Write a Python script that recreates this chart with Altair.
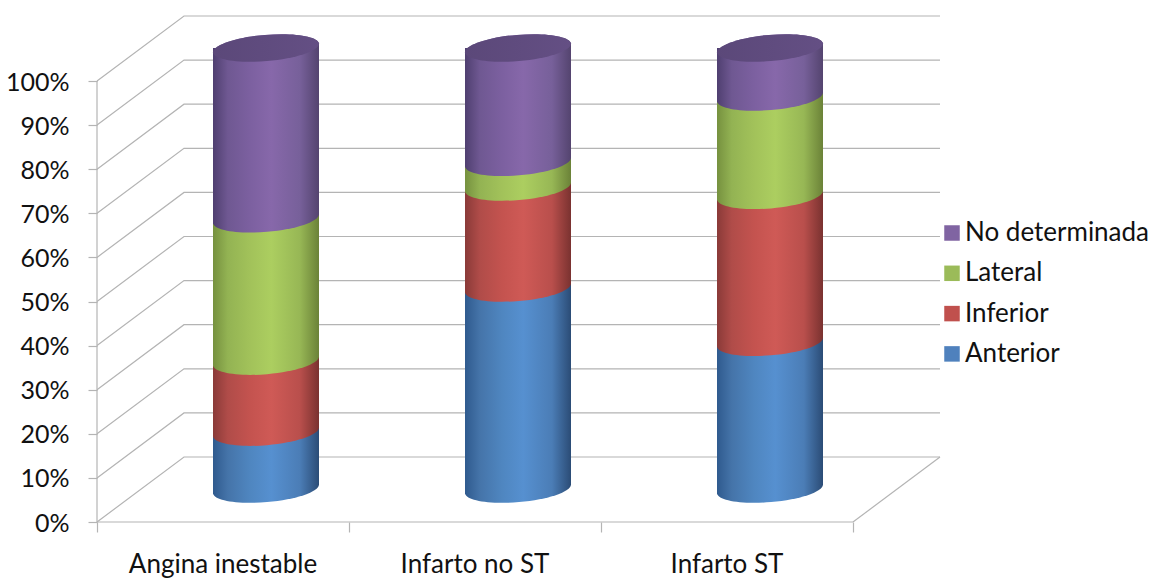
import altair as alt
import pandas as pd

# Percentage share of each territory per diagnosis
categories = ["Angina inestable", "Infarto no ST", "Infarto ST"]
anterior = [12.9, 45.6, 33.3]
inferior = [16.1, 22.9, 33.3]
lateral = [32.3, 5.6, 22.3]
no_determinada = [38.7, 25.9, 11.1]

series_names = ["Anterior", "Inferior", "Lateral", "No determinada"]
series_values = [anterior, inferior, lateral, no_determinada]
legend_colors = ["#4f81bd", "#c0504d", "#9bbb59", "#8064a2"]
side_stops = [
    ["#2f5a8e", "#4574a9", "#4f86c0", "#5690d0", "#4b7db6", "#2b4c76"],
    ["#8a3a38", "#b04c49", "#c4534f", "#cf5a56", "#b94f4c", "#7a3230"],
    ["#76913f", "#93b353", "#a2c25a", "#acce60", "#97b755", "#6b8238"],
    ["#4f3f70", "#6f5892", "#7c60a0", "#8768aa", "#77609a", "#54446f"],
]
y_ticks = list(range(0, 101, 10))
x_ticks = [0, 1, 2, 3]

PX_PER_PCT = 4.41
PX_PER_UNIT = 252
PLOT_W = 1055
PLOT_H = 522
WALL_DX = 87 / PX_PER_UNIT
WALL_DY = 65 / PX_PER_PCT
BAR_DX = 43 / PX_PER_UNIT
BAR_DY = 33 / PX_PER_PCT
BAR_W = 106
OVERLAP = 3.0
GREY = "#b4b4b4"
FONT = "Lato"

x_scale = alt.Scale(domain=[0, PLOT_W / PX_PER_UNIT], nice=False, zero=False, padding=0)
y_scale = alt.Scale(domain=[0, PLOT_H / PX_PER_PCT], nice=False, zero=False)
x_axis = alt.Axis(values=x_ticks, labels=False, title=None, domain=False, grid=False,
                  tickSize=10, tickColor=GREY, tickWidth=1.2)
y_axis = alt.Axis(values=y_ticks, labelExpr="datum.value + '%'", title=None, domain=False, grid=False,
                  tickSize=9, tickColor=GREY, tickWidth=1.2, labelFont=FONT, labelFontSize=25,
                  labelColor="#111111", labelPadding=19, labelOffset=1)
X = alt.X("x:Q", scale=x_scale, axis=x_axis)
Y = alt.Y("y:Q", scale=y_scale, axis=y_axis)

# Tilted ellipse outlines in unit coordinates, scaled by the symbol size
ARC = "1.004,0.255,-4.86,0"
BOTTOM_EDGE = f"M-1,0.085 A{ARC},0,1,-0.085 L1,-0.3 L-1,-0.3 Z"
TOP_EDGE = f"M-1,0.085 A{ARC},1,1,-0.085 L1,0.3 L-1,0.3 Z"
CAP = f"M-1,0.085 A{ARC},1,1,-0.085 A{ARC},1,-1,0.085 Z"


def gradient(colors):
    offsets = [0, 0.14, 0.35, 0.55, 0.82, 1]
    return alt.LinearGradient(
        gradient="linear", x1=0, x2=1, y1=0, y2=0,
        stops=[alt.GradientStop(offset=o, color=c) for o, c in zip(offsets, colors)],
    )


def symbol(rows, path, fill):
    return (
        alt.Chart(pd.DataFrame(rows))
        .mark_point(shape=path, size=BAR_W**2, filled=True, fill=fill, opacity=1, strokeWidth=0)
        .encode(x=X, y=Y)
    )


# Walls and floor: each gridline runs from the front axis to the back wall
grid_rows = []
for v in y_ticks:
    grid_rows += [
        {"tick": v, "order": 0, "x": 0, "y": v},
        {"tick": v, "order": 1, "x": WALL_DX, "y": v + WALL_DY},
        {"tick": v, "order": 2, "x": 3 + WALL_DX, "y": v + WALL_DY},
    ]
grid = alt.Chart(pd.DataFrame(grid_rows)).mark_line(color=GREY, strokeWidth=1.2).encode(
    x=X, y=Y, detail="tick:N", order="order:Q"
)
floor_side = alt.Chart(pd.DataFrame([
    {"x": 3, "y": 0}, {"x": 3 + WALL_DX, "y": WALL_DY},
])).mark_line(color=GREY, strokeWidth=1.2).encode(x=X, y=Y)

# Front axis lines
front_x = alt.Chart(pd.DataFrame({"x": [0, 3], "y": [0, 0]})).mark_line(color=GREY, strokeWidth=1.2).encode(x=X, y=Y)
front_y = alt.Chart(pd.DataFrame({"x": [0, 0], "y": [0, 100]})).mark_line(color=GREY, strokeWidth=1.2).encode(x=X, y=Y)

# Cylinders, stacked from the bottom so each segment's curved edge overlaps the one below
layers = [grid, floor_side, front_x, front_y]
base = [0, 0, 0]
for s, values in enumerate(series_values):
    fill = gradient(side_stops[s])
    rect_rows, edge_rows = [], []
    for i, v in enumerate(values):
        x = i + 0.5 + BAR_DX
        low = base[i] + BAR_DY
        high = base[i] + v + BAR_DY
        rect_rows.append({"x": x, "y": low + OVERLAP, "y2": high if s == 3 else high + OVERLAP})
        edge_rows.append({"x": x, "y": low})
        base[i] += v
    layers.append(
        alt.Chart(pd.DataFrame(rect_rows))
        .mark_bar(width=BAR_W, fill=fill, strokeWidth=0)
        .encode(x=X, y=Y, y2="y2:Q")
    )
    layers.append(symbol(edge_rows, BOTTOM_EDGE, fill))

# Top of each cylinder
top_rows = [{"x": i + 0.5 + BAR_DX, "y": base[i] + BAR_DY} for i in range(3)]
layers.append(symbol(top_rows, TOP_EDGE, gradient(side_stops[3])))
layers.append(symbol(top_rows, CAP, alt.LinearGradient(
    gradient="linear", x1=0, x2=1, y1=0, y2=0,
    stops=[alt.GradientStop(offset=0, color="#5b4879"), alt.GradientStop(offset=1, color="#644f84")],
)))

# Category names under the floor
layers.append(
    alt.Chart(pd.DataFrame({"label": categories, "x": [0.5, 1.5, 2.5], "y": [-9.8] * 3}))
    .mark_text(font=FONT, fontSize=26, color="#111111", align="center", baseline="middle", clip=False)
    .encode(x=X, y=Y, text="label:N")
)

# Legend comes from a zero-sized layer so it keeps flat swatches
layers.append(
    alt.Chart(pd.DataFrame({"name": series_names, "x": [0] * 4, "y": [0] * 4}))
    .mark_square(size=0, opacity=1)
    .encode(
        x=X, y=Y,
        color=alt.Color(
            "name:N",
            scale=alt.Scale(domain=series_names[::-1], range=legend_colors[::-1]),
            legend=alt.Legend(
                title=None, orient="none", legendX=842, legendY=220, symbolType="square",
                symbolSize=240, symbolStrokeWidth=0, symbolOpacity=1, labelFont=FONT, labelFontSize=26,
                labelColor="#111111", rowPadding=14.3, labelOffset=0, labelLimit=300,
            ),
        ),
    )
)

chart = (
    alt.layer(*layers)
    .properties(
        width=PLOT_W, height=PLOT_H, autosize="none", background="white",
        padding={"left": 97, "top": 0, "right": 0, "bottom": 57},
    )
    .configure_view(stroke=None)
)

chart.save("out.html", embed_options={"renderer": "svg", "actions": False})
